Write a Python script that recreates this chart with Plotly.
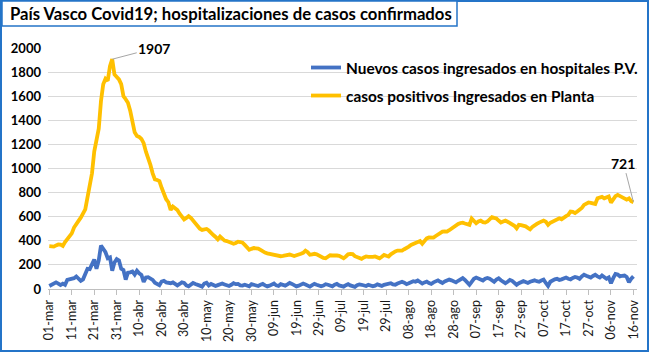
import pandas as pd
import plotly.graph_objects as go

# ---------------- data ----------------
start_date = "2020-03-01"

planta = [
    355, 350, 352, 362, 370, 368, 358, 390, 418, 440,
    462, 510, 545, 565, 592, 622, 660, 760, 880, 960,
    1140, 1230, 1330, 1560, 1700, 1745, 1728, 1850, 1907, 1780,
    1760, 1740, 1700, 1600, 1575, 1545, 1480, 1400, 1300, 1270,
    1262, 1245, 1210, 1140, 1095, 1030, 960, 910, 905, 895,
    840, 785, 745, 720, 655, 685, 670, 655, 625, 605,
    578, 590, 605, 590, 565, 548, 525, 500, 490, 495,
    498, 485, 462, 448, 432, 412, 435, 420, 402, 398,
    392, 385, 375, 382, 393, 390, 385, 366, 345, 325,
    333, 340, 338, 336, 325, 310, 302, 296, 291, 288,
    283, 276, 269, 272, 275, 280, 284, 286, 280, 274,
    280, 284, 292, 300, 318, 305, 284, 288, 292, 288,
    275, 268, 258, 255, 268, 280, 278, 274, 278, 275,
    268, 256, 270, 288, 292, 290, 272, 262, 252, 250,
    262, 270, 266, 262, 266, 270, 262, 255, 268, 283,
    276, 270, 288, 302, 312, 319, 316, 318, 330, 338,
    352, 366, 372, 380, 392, 398, 375, 400, 420, 428,
    430, 427, 440, 455, 468, 476, 478, 476, 488, 502,
    518, 532, 540, 548, 551, 544, 538, 532, 585, 560,
    546, 560, 568, 555, 551, 560, 575, 596, 590, 585,
    568, 552, 560, 568, 558, 546, 540, 525, 504, 532,
    530, 526, 520, 508, 496, 515, 532, 540, 551, 560,
    568, 558, 532, 550, 560, 568, 580, 587, 579, 595,
    605, 615, 643, 640, 630, 643, 658, 672, 698, 712,
    718, 715, 710, 706, 753, 762, 765, 753, 762, 768,
    717, 745, 770, 781, 770, 760, 753, 742, 752, 728,
    721,
]

nuevos = [
    25, 38, 50, 55, 45, 33, 45, 35, 75, 80,
    78, 90, 104, 88, 68, 80, 120, 168, 165, 215,
    245, 168, 238, 360, 338, 305, 255, 262, 152, 220,
    248, 236, 168, 158, 78, 135, 138, 145, 120, 152,
    130, 116, 58, 95, 98, 86, 76, 52, 42, 32,
    62, 68, 55, 50, 48, 55, 40, 30, 42, 55,
    50, 30, 22, 35, 50, 42, 38, 28, 20, 45,
    52, 30, 42, 35, 25, 32, 40, 45, 38, 30,
    25, 35, 48, 40, 42, 30, 28, 35, 30, 22,
    40, 36, 30, 25, 35, 42, 30, 22, 28, 38,
    45, 30, 25, 40, 35, 28, 38, 50, 42, 30,
    22, 28, 36, 45, 38, 25, 20, 32, 42, 35,
    30, 22, 28, 40, 35, 30, 22, 35, 42, 30,
    28, 20, 32, 40, 30, 25, 18, 32, 38, 35,
    30, 25, 35, 30, 22, 28, 38, 32, 25, 35,
    40, 42, 48, 38, 35, 45, 55, 60, 52, 40,
    48, 58, 65, 60, 70, 58, 45, 55, 62, 50,
    42, 55, 65, 72, 60, 50, 62, 70, 78, 72,
    60, 55, 68, 80, 90, 75, 55, 35, 60, 85,
    95, 88, 80, 70, 85, 92, 85, 70, 60, 78,
    88, 72, 55, 48, 60, 75, 68, 50, 35, 48,
    60, 65, 58, 50, 60, 70, 72, 65, 60, 70,
    78, 50, 25, 60, 72, 80, 85, 75, 80, 90,
    95, 85, 80, 92, 100, 95, 85, 105, 118, 110,
    100, 95, 108, 118, 105, 95, 112, 100, 85, 95,
    48, 90, 125, 120, 105, 110, 112, 100, 55, 85,
    105,
]

tick_labels = [
    "01-mar", "11-mar", "21-mar", "31-mar", "10-abr", "20-abr", "30-abr",
    "10-may", "20-may", "30-may", "09-jun", "19-jun", "29-jun", "09-jul",
    "19-jul", "29-jul", "08-ago", "18-ago", "28-ago", "07-sep", "17-sep",
    "27-sep", "07-oct", "17-oct", "27-oct", "06-nov", "16-nov",
]

name_nuevos = "Nuevos casos ingresados en hospitales P.V."
name_planta = "casos positivos Ingresados en Planta"
title_text = "País Vasco Covid19; hospitalizaciones de casos confirmados"

# ---------------- figure ----------------
dates = pd.date_range(start_date, periods=len(planta), freq="D")
tick_vals = pd.date_range(start_date, periods=len(tick_labels), freq="10D")

BLUE = "#4472c4"
ORANGE = "#ffc000"
FRAME = "#2474c8"
FONT = "Lato"

fig = go.Figure()
fig.add_trace(go.Scatter(x=dates, y=nuevos, mode="lines", name=name_nuevos,
                         line=dict(color=BLUE, width=3.8), legendgroup="a"))
fig.add_trace(go.Scatter(x=dates, y=planta, mode="lines", name=name_planta,
                         line=dict(color=ORANGE, width=3.8), legendgroup="b"))

# plot area geometry in pixels
W_IMG, H_IMG = 650, 354
L, R, T, B = 48, 637, 48, 289
PW, PH = R - L, B - T

def px(x):
    return (x - L) / PW

def py(y):
    return (B - y) / PH

fig.update_layout(
    width=W_IMG, height=H_IMG,
    margin=dict(l=L, r=W_IMG - R, t=T, b=H_IMG - B, autoexpand=False),
    paper_bgcolor="white", plot_bgcolor="white",
    font=dict(family=FONT, color="#000000"),
    showlegend=True,
    legend=dict(x=px(306), y=py(51), xanchor="left", yanchor="top",
                bgcolor="rgba(0,0,0,0)", borderwidth=0,
                font=dict(family=FONT, size=15.4, color="#000000", weight="bold"),
                tracegroupgap=5, itemwidth=30),
    xaxis=dict(
        range=["2020-02-29 10:00", "2020-11-17 14:00"],
        tickmode="array", tickvals=tick_vals, ticktext=tick_labels,
        tickangle=-90, tickfont=dict(family=FONT, size=12.5, color="#1a1a1a"),
        showgrid=False, showline=True, linecolor="#bfbfbf", linewidth=1,
        ticks="outside", ticklen=5, tickcolor="#bfbfbf", zeroline=False,
        automargin=False,
    ),
    yaxis=dict(
        range=[0, 2000], dtick=200, tick0=0,
        tickfont=dict(family=FONT, size=13, color="#000000", weight="bold"),
        showgrid=True, gridcolor="#d9d9d9", gridwidth=1,
        zeroline=False, showline=False, ticks="", ticklabelstandoff=6,
        automargin=False,
    ),
)

# outer frame and title box
fig.add_shape(type="rect", xref="paper", yref="paper",
              x0=px(1), x1=px(648), y0=py(351), y1=py(1),
              line=dict(color=FRAME, width=2), layer="above")
fig.add_shape(type="rect", xref="paper", yref="paper",
              x0=px(2), x1=px(457), y0=py(26), y1=py(1),
              line=dict(color=FRAME, width=1.5), fillcolor="white", layer="above")
fig.add_annotation(xref="paper", yref="paper", x=px(8), y=py(14),
                   xanchor="left", yanchor="middle", showarrow=False,
                   text="<b>" + title_text + "</b>",
                   font=dict(family=FONT, size=16.7, color="#000000"))

# data labels
i_max = max(range(len(planta)), key=lambda i: planta[i])
fig.add_annotation(x=dates[i_max], y=planta[i_max], text="<b>%d</b>" % planta[i_max],
                   showarrow=True, arrowhead=0, arrowwidth=1, arrowcolor="#a6a6a6",
                   ax=42, ay=-11, font=dict(family=FONT, size=14, color="#000000"))
fig.add_annotation(x=dates[-1], y=planta[-1], text="<b>%d</b>" % planta[-1],
                   showarrow=True, arrowhead=0, arrowwidth=1, arrowcolor="#a6a6a6",
                   ax=-10, ay=-39, font=dict(family=FONT, size=14, color="#000000"))

fig.write_html("out.html")
